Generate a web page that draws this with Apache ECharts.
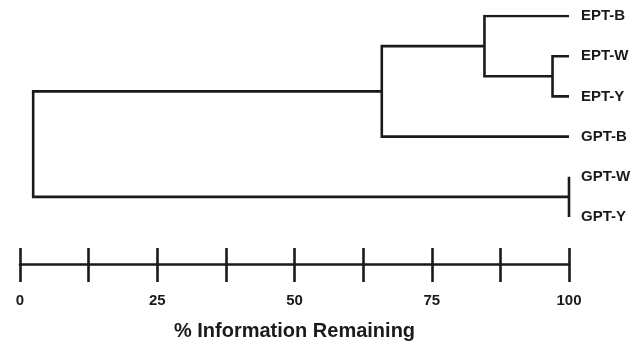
<!DOCTYPE html>
<html>
<head>
<meta charset="utf-8">
<script src="https://cdn.jsdelivr.net/npm/echarts@6/dist/echarts.min.js"></script>
<style>
  html, body { margin: 0; padding: 0; background: #ffffff; }
  #chart { width: 644px; height: 341px; }
</style>
</head>
<body>
<div id="chart"></div>
<script>
// Leaves (top to bottom)
const leafNames = ['EPT-B', 'EPT-W', 'EPT-Y', 'GPT-B', 'GPT-W', 'GPT-Y'];
// Merges: node ids 0-5 are leaves, 6.. are merges in this order
const mergeChildA = [1, 0, 7, 4, 8];
const mergeChildB = [2, 6, 3, 5, 9];
const mergeLevel = [97, 84.6, 65.9, 100, 2.4]; // % information remaining
// Axis ticks
const tickValues = [0, 12.5, 25, 37.5, 50, 62.5, 75, 87.5, 100];
const tickLabels = ['0', '', '25', '', '50', '', '75', '', '100'];
const axisTitle = '% Information Remaining';

const FONT = '"Liberation Sans", Arial, Helvetica, sans-serif';
const INK = '#1a1a1a';

// compute node positions
const nodeX = leafNames.map(() => 100);
const nodeY = leafNames.map((_, i) => i);
const series = [];
mergeLevel.forEach((lv, k) => {
  const a = mergeChildA[k], b = mergeChildB[k];
  nodeX.push(lv);
  nodeY.push((nodeY[a] + nodeY[b]) / 2);
  series.push({
    type: 'line',
    xAxisIndex: 0,
    yAxisIndex: 0,
    showSymbol: false,
    symbol: 'none',
    silent: true,
    lineStyle: { color: INK, width: 2.6, join: 'miter', cap: 'butt' },
    data: [[nodeX[a], nodeY[a]], [lv, nodeY[a]], [lv, nodeY[b]], [nodeX[b], nodeY[b]]]
  });
});

const chart = echarts.init(document.getElementById('chart'), null, { renderer: 'canvas' });
const tickFmt = (v) => {
  const i = tickValues.findIndex(t => Math.abs(t - v) < 1e-6);
  return i >= 0 ? tickLabels[i] : '';
};
chart.setOption({
  animation: false,
  backgroundColor: '#ffffff',
  grid: { left: 20, right: 75, top: 16, bottom: 124, containLabel: false, outerBoundsMode: 'none' },
  xAxis: [
    {
      type: 'value', min: 0, max: 100, interval: 12.5,
      position: 'bottom', offset: 47,
      axisLine: { show: true, onZero: false, lineStyle: { color: INK, width: 2.6 } },
      axisTick: { show: true, inside: false, length: 18, lineStyle: { color: INK, width: 2.6 } },
      axisLabel: { show: true, margin: 29, formatter: tickFmt, color: INK, fontFamily: FONT, fontWeight: 'bold', fontSize: 15 },
      splitLine: { show: false },
      name: axisTitle, nameLocation: 'middle', nameGap: 57,
      nameTextStyle: { color: INK, fontFamily: FONT, fontWeight: 'bold', fontSize: 20 }
    },
    {
      type: 'value', min: 0, max: 100, interval: 12.5,
      position: 'bottom', offset: 47,
      axisLine: { show: false, onZero: false },
      axisTick: { show: true, inside: true, length: 16, lineStyle: { color: INK, width: 2.6 } },
      axisLabel: { show: false },
      splitLine: { show: false }
    }
  ],
  yAxis: {
    type: 'value', min: 0, max: 5, interval: 1, inverse: true,
    position: 'right',
    axisLine: { show: false, onZero: false },
    axisTick: { show: false },
    splitLine: { show: false },
    axisLabel: {
      show: true, margin: 12, align: 'left', padding: [3, 0, 0, 0],
      formatter: (v) => leafNames[Math.round(v)] || '',
      color: INK, fontFamily: FONT, fontWeight: 'bold', fontSize: 15
    }
  },
  series: series
});
</script>
</body>
</html>
